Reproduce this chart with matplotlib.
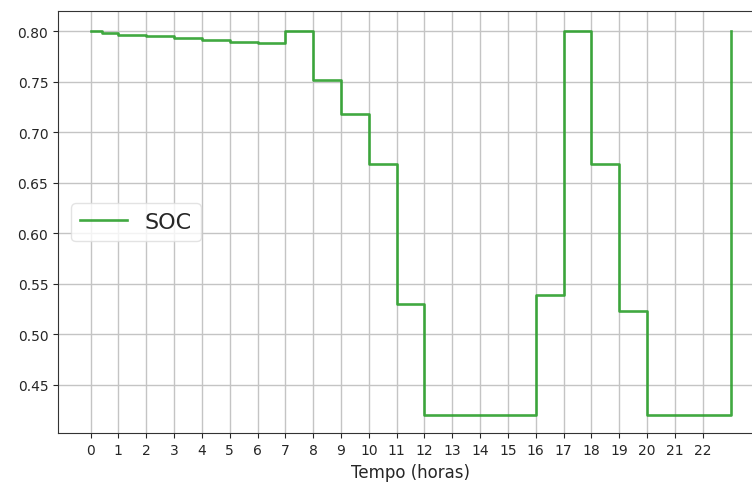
import matplotlib
matplotlib.use("Agg")
import matplotlib.pyplot as plt

hours = [0, 0.4, 1, 2, 3, 4, 5, 6, 7, 8, 9, 10, 11, 12, 13, 14, 15, 16, 17, 18, 19, 20, 21, 22, 23]
soc = [0.800, 0.798, 0.7967, 0.7954, 0.7935, 0.7915, 0.7898, 0.7885, 0.800, 0.752, 0.7185,
       0.6687, 0.5304, 0.42, 0.42, 0.42, 0.42, 0.539, 0.800, 0.6687, 0.5225, 0.42, 0.42, 0.42, 0.800]
xticks = list(range(0, 23))
series_label = "SOC"
xlabel = "Tempo (horas)"

text_color = "#262626"
fig = plt.figure(figsize=(7.52, 4.89), dpi=100)
ax = fig.add_axes([0.0771, 0.1119, 0.937, 0.8636])
ax.step(hours, soc, where="post", color="#2ca02c", lw=1.9, alpha=0.9, label=series_label)
ax.set_xticks(xticks)
ax.set_xticklabels([str(t) for t in xticks], fontsize=10)
ax.tick_params(axis="both", labelsize=10, colors=text_color)
ax.set_xlim(-1.17, 24.15)
ax.set_ylim(0.4019, 0.8201)
ax.set_yticks([0.45, 0.50, 0.55, 0.60, 0.65, 0.70, 0.75, 0.80])
ax.grid(True, color="#c4c4c4", lw=1.0)
for s in ax.spines.values():
    s.set_color("#333333")
ax.set_xlabel(xlabel, fontsize=12, color=text_color)
leg = ax.legend(loc="center left", fontsize=16, handlelength=2.1, borderaxespad=0.6)
for t in leg.get_texts():
    t.set_color(text_color)
leg.get_frame().set_edgecolor("#dddddd")
fig.savefig("out.png", dpi=100)
